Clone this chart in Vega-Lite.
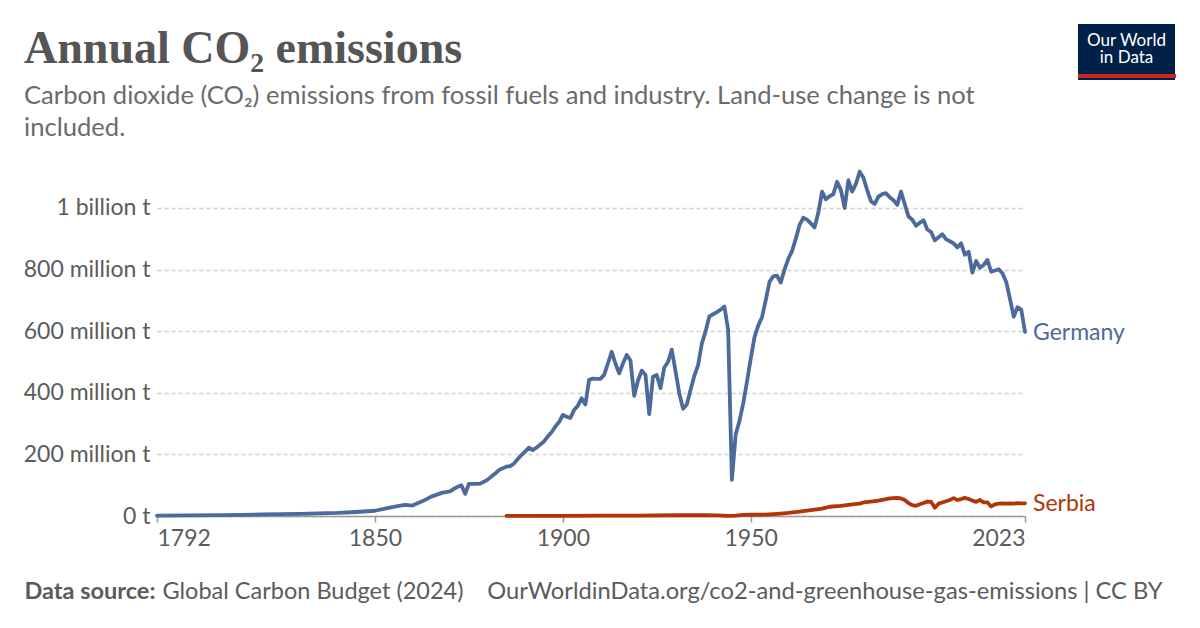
{
  "$schema": "https://vega.github.io/schema/vega-lite/v6.json",
  "width": 868,
  "height": 345,
  "autosize": {"type": "none"},
  "padding": {"left": 157, "top": 171, "right": 175, "bottom": 112},
  "background": "white",
  "title": {
    "text": "Annual CO₂ emissions",
    "subtitle": ["Carbon dioxide (CO₂) emissions from fossil fuels and industry. Land-use change is not", "included."],
    "anchor": "start",
    "frame": "group",
    "dx": -133,
    "dy": 149,
    "font": "Liberation Serif",
    "fontSize": 46,
    "fontWeight": "bold",
    "color": "#555555",
    "subtitleFont": "Lato",
    "subtitleFontSize": 25.6,
    "subtitleColor": "#6b6b6b",
    "subtitleLineHeight": 32,
    "subtitlePadding": 11,
    "offset": 30
  },
  "data": {"values": [
    {"country": "Germany", "year": 1792, "co2": 1},
    {"country": "Germany", "year": 1800, "co2": 2},
    {"country": "Germany", "year": 1810, "co2": 3},
    {"country": "Germany", "year": 1820, "co2": 5},
    {"country": "Germany", "year": 1830, "co2": 7},
    {"country": "Germany", "year": 1840, "co2": 10},
    {"country": "Germany", "year": 1845, "co2": 13},
    {"country": "Germany", "year": 1850, "co2": 17},
    {"country": "Germany", "year": 1853, "co2": 25},
    {"country": "Germany", "year": 1856, "co2": 32},
    {"country": "Germany", "year": 1858, "co2": 36},
    {"country": "Germany", "year": 1860, "co2": 34},
    {"country": "Germany", "year": 1863, "co2": 50},
    {"country": "Germany", "year": 1865, "co2": 63},
    {"country": "Germany", "year": 1868, "co2": 76},
    {"country": "Germany", "year": 1870, "co2": 80},
    {"country": "Germany", "year": 1871, "co2": 88},
    {"country": "Germany", "year": 1872, "co2": 95},
    {"country": "Germany", "year": 1873, "co2": 100},
    {"country": "Germany", "year": 1874, "co2": 72},
    {"country": "Germany", "year": 1875, "co2": 104},
    {"country": "Germany", "year": 1876, "co2": 104},
    {"country": "Germany", "year": 1877, "co2": 104},
    {"country": "Germany", "year": 1878, "co2": 105},
    {"country": "Germany", "year": 1879, "co2": 111},
    {"country": "Germany", "year": 1880, "co2": 118},
    {"country": "Germany", "year": 1881, "co2": 128},
    {"country": "Germany", "year": 1882, "co2": 138},
    {"country": "Germany", "year": 1883, "co2": 149},
    {"country": "Germany", "year": 1884, "co2": 155},
    {"country": "Germany", "year": 1885, "co2": 160},
    {"country": "Germany", "year": 1886, "co2": 162},
    {"country": "Germany", "year": 1887, "co2": 170},
    {"country": "Germany", "year": 1888, "co2": 185},
    {"country": "Germany", "year": 1889, "co2": 198},
    {"country": "Germany", "year": 1890, "co2": 210},
    {"country": "Germany", "year": 1891, "co2": 222},
    {"country": "Germany", "year": 1892, "co2": 214},
    {"country": "Germany", "year": 1893, "co2": 222},
    {"country": "Germany", "year": 1894, "co2": 232},
    {"country": "Germany", "year": 1895, "co2": 242},
    {"country": "Germany", "year": 1896, "co2": 258},
    {"country": "Germany", "year": 1897, "co2": 272},
    {"country": "Germany", "year": 1898, "co2": 290},
    {"country": "Germany", "year": 1899, "co2": 305},
    {"country": "Germany", "year": 1900, "co2": 328},
    {"country": "Germany", "year": 1901, "co2": 322},
    {"country": "Germany", "year": 1902, "co2": 318},
    {"country": "Germany", "year": 1903, "co2": 344},
    {"country": "Germany", "year": 1904, "co2": 358},
    {"country": "Germany", "year": 1905, "co2": 382},
    {"country": "Germany", "year": 1906, "co2": 362},
    {"country": "Germany", "year": 1907, "co2": 442},
    {"country": "Germany", "year": 1908, "co2": 446},
    {"country": "Germany", "year": 1909, "co2": 445},
    {"country": "Germany", "year": 1910, "co2": 445},
    {"country": "Germany", "year": 1911, "co2": 458},
    {"country": "Germany", "year": 1912, "co2": 495},
    {"country": "Germany", "year": 1913, "co2": 533},
    {"country": "Germany", "year": 1914, "co2": 495},
    {"country": "Germany", "year": 1915, "co2": 463},
    {"country": "Germany", "year": 1916, "co2": 495},
    {"country": "Germany", "year": 1917, "co2": 523},
    {"country": "Germany", "year": 1918, "co2": 505},
    {"country": "Germany", "year": 1919, "co2": 390},
    {"country": "Germany", "year": 1920, "co2": 440},
    {"country": "Germany", "year": 1921, "co2": 472},
    {"country": "Germany", "year": 1922, "co2": 458},
    {"country": "Germany", "year": 1923, "co2": 331},
    {"country": "Germany", "year": 1924, "co2": 452},
    {"country": "Germany", "year": 1925, "co2": 458},
    {"country": "Germany", "year": 1926, "co2": 415},
    {"country": "Germany", "year": 1927, "co2": 482},
    {"country": "Germany", "year": 1928, "co2": 500},
    {"country": "Germany", "year": 1929, "co2": 540},
    {"country": "Germany", "year": 1930, "co2": 470},
    {"country": "Germany", "year": 1931, "co2": 398},
    {"country": "Germany", "year": 1932, "co2": 348},
    {"country": "Germany", "year": 1933, "co2": 362},
    {"country": "Germany", "year": 1934, "co2": 410},
    {"country": "Germany", "year": 1935, "co2": 455},
    {"country": "Germany", "year": 1936, "co2": 490},
    {"country": "Germany", "year": 1937, "co2": 560},
    {"country": "Germany", "year": 1938, "co2": 600},
    {"country": "Germany", "year": 1939, "co2": 648},
    {"country": "Germany", "year": 1940, "co2": 655},
    {"country": "Germany", "year": 1941, "co2": 662},
    {"country": "Germany", "year": 1942, "co2": 670},
    {"country": "Germany", "year": 1943, "co2": 680},
    {"country": "Germany", "year": 1944, "co2": 604},
    {"country": "Germany", "year": 1945, "co2": 117},
    {"country": "Germany", "year": 1946, "co2": 265},
    {"country": "Germany", "year": 1947, "co2": 308},
    {"country": "Germany", "year": 1948, "co2": 365},
    {"country": "Germany", "year": 1949, "co2": 435},
    {"country": "Germany", "year": 1950, "co2": 510},
    {"country": "Germany", "year": 1951, "co2": 580},
    {"country": "Germany", "year": 1952, "co2": 618},
    {"country": "Germany", "year": 1953, "co2": 645},
    {"country": "Germany", "year": 1954, "co2": 700},
    {"country": "Germany", "year": 1955, "co2": 760},
    {"country": "Germany", "year": 1956, "co2": 778},
    {"country": "Germany", "year": 1957, "co2": 780},
    {"country": "Germany", "year": 1958, "co2": 758},
    {"country": "Germany", "year": 1959, "co2": 800},
    {"country": "Germany", "year": 1960, "co2": 835},
    {"country": "Germany", "year": 1961, "co2": 860},
    {"country": "Germany", "year": 1962, "co2": 900},
    {"country": "Germany", "year": 1963, "co2": 945},
    {"country": "Germany", "year": 1964, "co2": 968},
    {"country": "Germany", "year": 1965, "co2": 962},
    {"country": "Germany", "year": 1966, "co2": 950},
    {"country": "Germany", "year": 1967, "co2": 937},
    {"country": "Germany", "year": 1968, "co2": 985},
    {"country": "Germany", "year": 1969, "co2": 1053},
    {"country": "Germany", "year": 1970, "co2": 1028},
    {"country": "Germany", "year": 1971, "co2": 1038},
    {"country": "Germany", "year": 1972, "co2": 1045},
    {"country": "Germany", "year": 1973, "co2": 1085},
    {"country": "Germany", "year": 1974, "co2": 1058},
    {"country": "Germany", "year": 1975, "co2": 1000},
    {"country": "Germany", "year": 1976, "co2": 1090},
    {"country": "Germany", "year": 1977, "co2": 1053},
    {"country": "Germany", "year": 1978, "co2": 1078},
    {"country": "Germany", "year": 1979, "co2": 1118},
    {"country": "Germany", "year": 1980, "co2": 1098},
    {"country": "Germany", "year": 1981, "co2": 1058},
    {"country": "Germany", "year": 1982, "co2": 1022},
    {"country": "Germany", "year": 1983, "co2": 1013},
    {"country": "Germany", "year": 1984, "co2": 1037},
    {"country": "Germany", "year": 1985, "co2": 1045},
    {"country": "Germany", "year": 1986, "co2": 1048},
    {"country": "Germany", "year": 1987, "co2": 1035},
    {"country": "Germany", "year": 1988, "co2": 1025},
    {"country": "Germany", "year": 1989, "co2": 1010},
    {"country": "Germany", "year": 1990, "co2": 1053},
    {"country": "Germany", "year": 1991, "co2": 1012},
    {"country": "Germany", "year": 1992, "co2": 972},
    {"country": "Germany", "year": 1993, "co2": 962},
    {"country": "Germany", "year": 1994, "co2": 942},
    {"country": "Germany", "year": 1995, "co2": 952},
    {"country": "Germany", "year": 1996, "co2": 960},
    {"country": "Germany", "year": 1997, "co2": 930},
    {"country": "Germany", "year": 1998, "co2": 922},
    {"country": "Germany", "year": 1999, "co2": 895},
    {"country": "Germany", "year": 2000, "co2": 905},
    {"country": "Germany", "year": 2001, "co2": 915},
    {"country": "Germany", "year": 2002, "co2": 898},
    {"country": "Germany", "year": 2003, "co2": 892},
    {"country": "Germany", "year": 2004, "co2": 885},
    {"country": "Germany", "year": 2005, "co2": 872},
    {"country": "Germany", "year": 2006, "co2": 885},
    {"country": "Germany", "year": 2007, "co2": 848},
    {"country": "Germany", "year": 2008, "co2": 858},
    {"country": "Germany", "year": 2009, "co2": 790},
    {"country": "Germany", "year": 2010, "co2": 828},
    {"country": "Germany", "year": 2011, "co2": 806},
    {"country": "Germany", "year": 2012, "co2": 815},
    {"country": "Germany", "year": 2013, "co2": 831},
    {"country": "Germany", "year": 2014, "co2": 793},
    {"country": "Germany", "year": 2015, "co2": 797},
    {"country": "Germany", "year": 2016, "co2": 801},
    {"country": "Germany", "year": 2017, "co2": 788},
    {"country": "Germany", "year": 2018, "co2": 760},
    {"country": "Germany", "year": 2019, "co2": 705},
    {"country": "Germany", "year": 2020, "co2": 647},
    {"country": "Germany", "year": 2021, "co2": 678},
    {"country": "Germany", "year": 2022, "co2": 670},
    {"country": "Germany", "year": 2023, "co2": 598},
    {"country": "Serbia", "year": 1885, "co2": 0.3},
    {"country": "Serbia", "year": 1900, "co2": 0.6},
    {"country": "Serbia", "year": 1910, "co2": 1},
    {"country": "Serbia", "year": 1920, "co2": 1.5},
    {"country": "Serbia", "year": 1930, "co2": 2.5},
    {"country": "Serbia", "year": 1938, "co2": 3},
    {"country": "Serbia", "year": 1941, "co2": 2},
    {"country": "Serbia", "year": 1944, "co2": 0.5},
    {"country": "Serbia", "year": 1946, "co2": 1.5},
    {"country": "Serbia", "year": 1948, "co2": 3.5},
    {"country": "Serbia", "year": 1950, "co2": 4},
    {"country": "Serbia", "year": 1954, "co2": 4.5},
    {"country": "Serbia", "year": 1958, "co2": 8},
    {"country": "Serbia", "year": 1960, "co2": 10},
    {"country": "Serbia", "year": 1963, "co2": 14},
    {"country": "Serbia", "year": 1966, "co2": 19},
    {"country": "Serbia", "year": 1969, "co2": 24},
    {"country": "Serbia", "year": 1971, "co2": 30},
    {"country": "Serbia", "year": 1974, "co2": 33},
    {"country": "Serbia", "year": 1977, "co2": 38},
    {"country": "Serbia", "year": 1979, "co2": 40},
    {"country": "Serbia", "year": 1980, "co2": 44},
    {"country": "Serbia", "year": 1982, "co2": 47},
    {"country": "Serbia", "year": 1984, "co2": 50},
    {"country": "Serbia", "year": 1987, "co2": 57},
    {"country": "Serbia", "year": 1988, "co2": 58},
    {"country": "Serbia", "year": 1989, "co2": 59},
    {"country": "Serbia", "year": 1990, "co2": 57},
    {"country": "Serbia", "year": 1991, "co2": 52},
    {"country": "Serbia", "year": 1992, "co2": 42},
    {"country": "Serbia", "year": 1993, "co2": 35},
    {"country": "Serbia", "year": 1994, "co2": 33},
    {"country": "Serbia", "year": 1995, "co2": 38},
    {"country": "Serbia", "year": 1996, "co2": 42},
    {"country": "Serbia", "year": 1997, "co2": 47},
    {"country": "Serbia", "year": 1998, "co2": 46},
    {"country": "Serbia", "year": 1999, "co2": 27},
    {"country": "Serbia", "year": 2000, "co2": 40},
    {"country": "Serbia", "year": 2001, "co2": 44},
    {"country": "Serbia", "year": 2002, "co2": 48},
    {"country": "Serbia", "year": 2003, "co2": 52},
    {"country": "Serbia", "year": 2004, "co2": 58},
    {"country": "Serbia", "year": 2005, "co2": 52},
    {"country": "Serbia", "year": 2006, "co2": 55},
    {"country": "Serbia", "year": 2007, "co2": 59},
    {"country": "Serbia", "year": 2008, "co2": 55},
    {"country": "Serbia", "year": 2009, "co2": 50},
    {"country": "Serbia", "year": 2010, "co2": 46},
    {"country": "Serbia", "year": 2011, "co2": 52},
    {"country": "Serbia", "year": 2012, "co2": 44},
    {"country": "Serbia", "year": 2013, "co2": 44},
    {"country": "Serbia", "year": 2014, "co2": 31},
    {"country": "Serbia", "year": 2015, "co2": 38},
    {"country": "Serbia", "year": 2016, "co2": 40},
    {"country": "Serbia", "year": 2017, "co2": 41},
    {"country": "Serbia", "year": 2018, "co2": 40},
    {"country": "Serbia", "year": 2019, "co2": 41},
    {"country": "Serbia", "year": 2020, "co2": 40},
    {"country": "Serbia", "year": 2021, "co2": 42},
    {"country": "Serbia", "year": 2022, "co2": 41},
    {"country": "Serbia", "year": 2023, "co2": 41}
  ]},
  "resolve": {"axis": {"x": "independent"}},
  "layer": [
    {
      "mark": {"type": "line", "strokeWidth": 3.8, "strokeJoin": "round", "strokeCap": "round", "clip": false},
      "encoding": {
        "x": {
          "field": "year", "type": "quantitative",
          "scale": {"domain": [1792, 2023], "nice": false, "zero": false},
          "axis": {
            "values": [1792, 1850, 1900, 1950, 2023],
            "format": "d",
            "labelFlush": true,
            "labelFont": "Lato", "labelFontSize": 23, "labelColor": "#5b5b5b", "labelPadding": 5,
            "tickColor": "#999999", "tickSize": 6, "tickWidth": 1.5,
            "domainColor": "#999999", "domainWidth": 1.5,
            "grid": false,
            "title": "Global Carbon Budget (2024)",
            "titleFont": "Lato", "titleFontSize": 23.5, "titleFontWeight": "normal", "titleColor": "#5b5b5b",
            "titleAnchor": "start", "titleAlign": "left", "titleBaseline": "alphabetic", "titleAngle": 0,
            "titleX": 5, "titleY": 82
          }
        },
        "y": {
          "field": "co2", "type": "quantitative",
          "scale": {"domain": [0, 1120], "nice": false},
          "axis": {
            "values": [0, 200, 400, 600, 800, 1000],
            "labelExpr": "datum.value == 0 ? '0 t' : datum.value >= 1000 ? (datum.value / 1000) + ' billion t' : datum.value + ' million t'",
            "labelFont": "Lato", "labelFontSize": 23, "labelColor": "#5b5b5b", "labelPadding": 7,
            "ticks": false, "domain": false,
            "grid": true, "gridColor": "#d0d0d0", "gridDash": [4, 3], "gridWidth": 1.5,
            "title": "Data source:",
            "titleFont": "Lato", "titleFontSize": 23.5, "titleFontWeight": "bold", "titleColor": "#5b5b5b",
            "titleAngle": 0, "titleAlign": "left", "titleBaseline": "alphabetic", "titleAnchor": "start",
            "titleX": -133, "titleY": 427
          }
        },
        "color": {
          "field": "country", "type": "nominal",
          "scale": {"domain": ["Germany", "Serbia"], "range": ["#4c6a9c", "#b13507"]},
          "legend": {
            "orient": "none", "legendX": 921, "legendY": -147,
            "values": ["Germany"],
            "title": ["Our World", "in Data"],
            "titleFont": "Lato", "titleFontSize": 17, "titleFontWeight": "normal", "titleColor": "white",
            "titleLineHeight": 17, "titleAnchor": "middle", "titleAlign": "center", "titlePadding": 0,
            "fillColor": "#002147", "padding": 8.5,
            "labelExpr": "''", "labelFontSize": 0, "labelOffset": 0,
            "symbolSize": 0, "symbolOpacity": 0, "symbolStrokeWidth": 0, "rowPadding": 0
          }
        }
      }
    },
    {
      "transform": [{"filter": "datum.year == 2023"}],
      "mark": {"type": "text", "align": "left", "baseline": "middle", "dx": 8, "dy": 1, "font": "Lato", "fontSize": 23, "strokeWidth": 0},
      "encoding": {
        "x": {
          "field": "year", "type": "quantitative",
          "axis": {
            "orient": "top", "labels": false, "ticks": false, "domain": false, "grid": false,
            "title": "OurWorldinData.org/co2-and-greenhouse-gas-emissions | CC BY",
            "titleFont": "Lato", "titleFontSize": 23.7, "titleFontWeight": "normal", "titleColor": "#5b5b5b",
            "titleAnchor": "end", "titleAlign": "right", "titleBaseline": "alphabetic", "titleAngle": 0,
            "titleX": 1005, "titleY": 427
          }
        },
        "y": {"field": "co2", "type": "quantitative"},
        "text": {"field": "country"},
        "color": {"field": "country", "type": "nominal"},
        "stroke": {
          "field": "co2", "type": "quantitative",
          "scale": {"range": ["#ce261e", "#ce261e"]},
          "legend": {
            "orient": "none", "legendX": 921, "legendY": -97,
            "direction": "horizontal", "gradientLength": 98, "gradientThickness": 4,
            "gradientStrokeWidth": 0, "title": null, "padding": 0,
            "labelExpr": "''", "labelOpacity": 0, "labelFontSize": 1
          }
        }
      }
    }
  ],
  "config": {
    "view": {"stroke": null},
    "font": "Lato"
  }
}
